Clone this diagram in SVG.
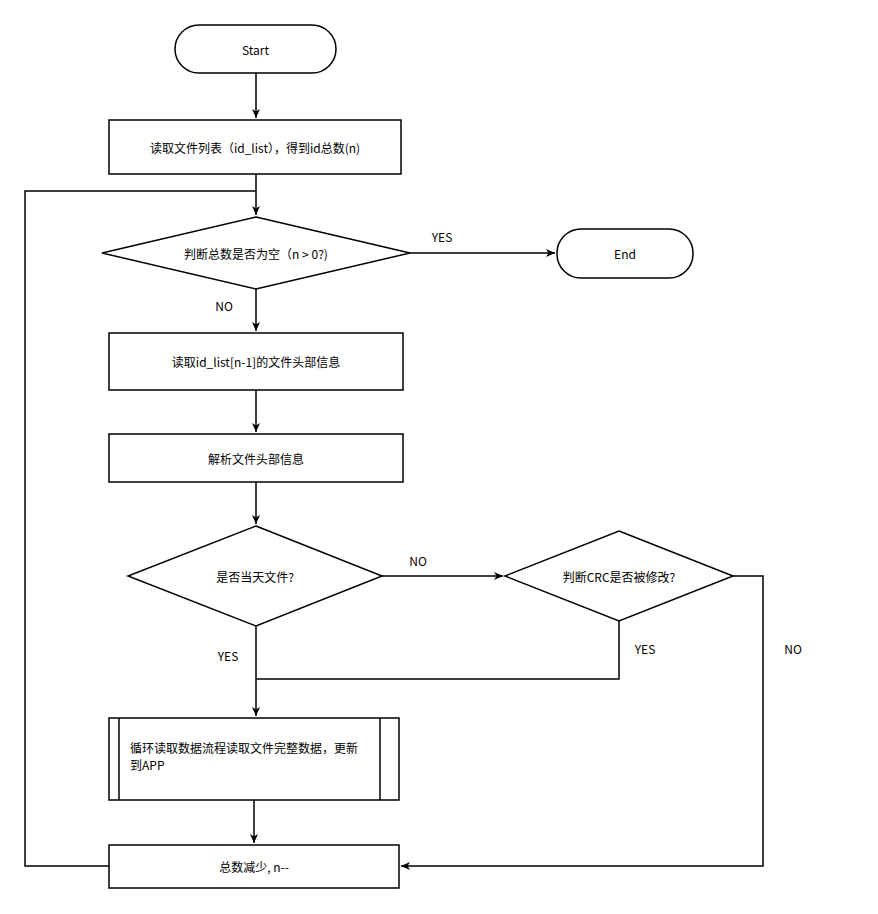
<svg xmlns="http://www.w3.org/2000/svg" width="878" height="914" viewBox="0 0 878 914">
<defs>
<marker id="a" markerWidth="10" markerHeight="10" refX="9" refY="5" orient="auto" markerUnits="userSpaceOnUse"><path d="M0,1 L9,5 L0,9 L2.5,5 Z" fill="#000"/></marker>
<style>
.s{fill:#fff;stroke:#000;stroke-width:1.5}
.c{fill:none;stroke:#000;stroke-width:1.5}
text{font-family:"Noto Sans CJK SC","Noto Sans",sans-serif;font-size:12px;fill:#000}
.m{text-anchor:middle;dominant-baseline:central}
</style>
</defs>
<rect width="878" height="914" fill="#fff"/>
<g id="connectors">
<path class="c" d="M256,73 V118" marker-end="url(#a)"/>
<path class="c" d="M256,174 V215" marker-end="url(#a)"/>
<path class="c" d="M109,866 H25 V191 H256"/>
<path class="c" d="M410,253 H555" marker-end="url(#a)"/>
<path class="c" d="M256,289 V331" marker-end="url(#a)"/>
<path class="c" d="M256,390 V432" marker-end="url(#a)"/>
<path class="c" d="M256,482 V524" marker-end="url(#a)"/>
<path class="c" d="M382,576 H503" marker-end="url(#a)"/>
<path class="c" d="M256,626 V716" marker-end="url(#a)"/>
<path class="c" d="M619,621 V679 H256"/>
<path class="c" d="M733,576 H763 V866 H401" marker-end="url(#a)"/>
<path class="c" d="M254,800 V843" marker-end="url(#a)"/>
<text x="442" y="236" class="m">YES</text>
<text x="224" y="305" class="m">NO</text>
<text x="418" y="560" class="m">NO</text>
<text x="228" y="655" class="m">YES</text>
<text x="645" y="648" class="m">YES</text>
<text x="793" y="648" class="m">NO</text>
</g>
<g id="start"><rect class="s" x="175" y="25" width="161" height="48" rx="24"/><text x="255.5" y="49" class="m">Start</text></g>
<g id="read-list"><rect class="s" x="109" y="120" width="292" height="54"/><text x="255" y="147" class="m">读取文件列表（id_list），得到id总数(n)</text></g>
<g id="check-n"><polygon class="s" points="256,217 410,253 256,289 102,253"/><text x="256" y="253" class="m">判断总数是否为空（n &gt; 0?)</text></g>
<g id="end"><rect class="s" x="557" y="229" width="136" height="49" rx="24"/><text x="625" y="253.5" class="m">End</text></g>
<g id="read-header"><rect class="s" x="109" y="333" width="294" height="57"/><text x="256" y="361.5" class="m">读取id_list[n-1]的文件头部信息</text></g>
<g id="parse"><rect class="s" x="109" y="434" width="294" height="48"/><text x="256" y="458" class="m">解析文件头部信息</text></g>
<g id="today"><polygon class="s" points="256,526 382,576 256,626 128,576"/><text x="255" y="576" class="m">是否当天文件?</text></g>
<g id="crc"><polygon class="s" points="619,531 733,576 619,621 505,576"/><text x="619" y="576" class="m">判断CRC是否被修改?</text></g>
<g id="loop-read"><rect class="s" x="109" y="718" width="290" height="82"/><path class="c" d="M119,718 V800 M380,718 V800"/><text x="130" y="753">循环读取数据流程读取文件完整数据，更新</text><text x="130" y="770">到APP</text></g>
<g id="decrement"><rect class="s" x="109" y="845" width="290" height="43"/><text x="254" y="866.5" class="m">总数减少, n--</text></g>
</svg>
